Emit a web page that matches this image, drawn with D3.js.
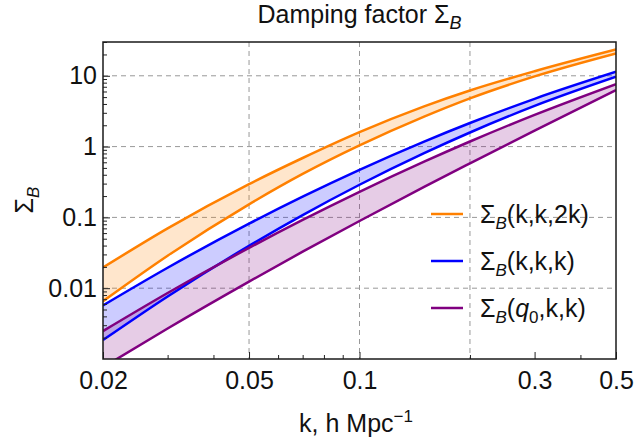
<!DOCTYPE html>
<html>
<head>
<meta charset="utf-8">
<script src="https://cdn.jsdelivr.net/npm/d3@7"></script>
<style>
    body { margin: 0; background: white; }
    text { font-family: "Liberation Sans", Arial, sans-serif; }
</style>
</head>
<body>
<svg id="chart"></svg>
<script>
var kValues = [0.02, 0.03, 0.05, 0.07, 0.1, 0.15, 0.2, 0.3, 0.5]

// Sigma_B(k,k,2k): upper and lower edge of the band
var orangeUpper = [0.0196, 0.07, 0.295, 0.69, 1.6, 3.7, 6.2, 11.6, 23.5]
var orangeLower = [0.00656, 0.0288, 0.153, 0.411, 1.04, 2.65, 4.8, 9.8, 20.7]
// Sigma_B(k,k,k)
var blueUpper = [0.00571, 0.01945, 0.0817, 0.1965, 0.47, 1.177, 2.154, 4.73, 11.38]
var blueLower = [0.00185, 0.00764, 0.0396, 0.1077, 0.289, 0.808, 1.582, 3.75, 9.68]
// Sigma_B(q0,k,k)
var purpleUpper = [0.00248, 0.00855, 0.0371, 0.0922, 0.23, 0.612, 1.18, 2.81, 7.64]
var purpleLower = [0.000764, 0.0027, 0.0124, 0.0328, 0.089, 0.27, 0.58, 1.68, 6.29]

var xTickLabels = [0.02, 0.05, 0.1, 0.3, 0.5]
var xMinorTicks = [0.03, 0.04, 0.06, 0.07, 0.08, 0.09, 0.2, 0.4]
var xGrid = [0.05, 0.1, 0.2]
var yTickLabels = [0.01, 0.1, 1, 10]
var yGrid = [0.01, 0.1, 1, 10]

var dimensions = {
    width: 635,
    height: 443,
    margin: {
        top: 42,
        bottom: 84,
        right: 19,
        left: 103
    }
}
var plotBottom = dimensions.height - dimensions.margin.bottom
var plotRight = dimensions.width - dimensions.margin.right

var svg = d3.select("#chart")
    .attr("width", dimensions.width)
    .attr("height", dimensions.height)

var xScale = d3.scaleLog()
    .domain([0.02, 0.5])
    .range([dimensions.margin.left, plotRight])
var yScale = d3.scaleLog()
    .domain([0.001, 30])
    .range([plotBottom, dimensions.margin.top])

// clip everything to the frame
svg.append("defs").append("clipPath")
    .attr("id", "plotClip")
    .append("rect")
    .attr("x", dimensions.margin.left)
    .attr("y", dimensions.margin.top)
    .attr("width", plotRight - dimensions.margin.left)
    .attr("height", plotBottom - dimensions.margin.top)

// dashed grid
svg.append("g").selectAll("line")
    .data(xGrid)
    .enter()
    .append("line")
    .attr("x1", d => xScale(d))
    .attr("x2", d => xScale(d))
    .attr("y1", dimensions.margin.top)
    .attr("y2", plotBottom)
    .attr("stroke", "#999")
    .attr("stroke-dasharray", "5,4")
svg.append("g").selectAll("line")
    .data(yGrid)
    .enter()
    .append("line")
    .attr("x1", dimensions.margin.left)
    .attr("x2", plotRight)
    .attr("y1", d => yScale(d))
    .attr("y2", d => yScale(d))
    .attr("stroke", "#999")
    .attr("stroke-dasharray", "5,4")

var series = [
    {upper: orangeUpper, lower: orangeLower, color: "#ff8000"},
    {upper: blueUpper, lower: blueLower, color: "#0000ff"},
    {upper: purpleUpper, lower: purpleLower, color: "#800080"}
]

var area = d3.area()
    .x(d => xScale(d.k))
    .y0(d => yScale(d.lo))
    .y1(d => yScale(d.hi))
    .curve(d3.curveMonotoneX)
var line = d3.line()
    .x(d => xScale(d.k))
    .y(d => yScale(d.v))
    .curve(d3.curveMonotoneX)

var plot = svg.append("g").attr("clip-path", "url(#plotClip)")

// shaded bands
series.forEach(s => {
    var rows = kValues.map((k, i) => ({k: k, lo: s.lower[i], hi: s.upper[i]}))
    plot.append("path")
        .datum(rows)
        .attr("d", area)
        .attr("fill", s.color)
        .attr("fill-opacity", 0.2)
})
// band edges
series.forEach(s => {
    [s.upper, s.lower].forEach(vals => {
        plot.append("path")
            .datum(kValues.map((k, i) => ({k: k, v: vals[i]})))
            .attr("d", line)
            .attr("fill", "none")
            .attr("stroke", s.color)
            .attr("stroke-width", 2.5)
    })
})

// axes, ticks point inward
var fmt = d => String(d)
var xAxis = svg.append("g")
    .attr("transform", `translate(0,${plotBottom})`)
    .call(d3.axisBottom(xScale).tickValues(xTickLabels).tickFormat(fmt).tickSize(-7).tickPadding(12))
svg.append("g")
    .attr("transform", `translate(0,${plotBottom})`)
    .call(d3.axisBottom(xScale).tickValues(xMinorTicks).tickFormat("").tickSize(-4))
var yMinor = []
;[0.001, 0.01, 0.1, 1, 10].forEach(dec => {
    for (var m = 2; m <= 9; m++) if (dec * m <= 30) yMinor.push(dec * m)
})
var yAxis = svg.append("g")
    .attr("transform", `translate(${dimensions.margin.left},0)`)
    .call(d3.axisLeft(yScale).tickValues(yTickLabels).tickFormat(fmt).tickSize(-7).tickPadding(6))
svg.append("g")
    .attr("transform", `translate(${dimensions.margin.left},0)`)
    .call(d3.axisLeft(yScale).tickValues(yMinor).tickFormat("").tickSize(-4))

svg.selectAll(".domain").remove()
svg.selectAll(".tick line").attr("stroke", "#222").attr("stroke-width", 1)
svg.selectAll(".tick text")
    .style("font-size", "25px")
    .style("font-family", "Liberation Sans, Arial, sans-serif")
    .attr("fill", "#111")

// frame
svg.append("rect")
    .attr("x", dimensions.margin.left)
    .attr("y", dimensions.margin.top)
    .attr("width", plotRight - dimensions.margin.left)
    .attr("height", plotBottom - dimensions.margin.top)
    .attr("fill", "none")
    .attr("stroke", "#1a1a1a")
    .attr("stroke-width", 1.5)

// title
var title = svg.append("text")
    .attr("x", (dimensions.margin.left + plotRight) / 2)
    .attr("y", 23)
    .style("text-anchor", "middle")
    .style("font-size", "25px")
    .attr("fill", "#111")
title.append("tspan").text("Damping factor Σ")
title.append("tspan").text("B").attr("dy", 6).style("font-size", "18px").style("font-style", "italic")

// x label
var xLabel = svg.append("text")
    .attr("x", 356)
    .attr("y", 432)
    .style("text-anchor", "middle")
    .style("font-size", "25px")
    .attr("fill", "#111")
xLabel.append("tspan").text("k, h Mpc")
xLabel.append("tspan").text("\u22121").attr("dy", -10).style("font-size", "17px")

// y label
var yLabel = svg.append("text")
    .attr("transform", "translate(33,200) rotate(-90)")
    .style("text-anchor", "middle")
    .style("font-size", "25px")
    .attr("fill", "#111")
yLabel.append("tspan").text("Σ")
yLabel.append("tspan").text("B").attr("dy", 6).style("font-size", "17px").style("font-style", "italic")

// legend
var legendItems = [
    {color: "#ff8000", parts: [["Σ", 0, false, 25], ["B", 6, true, 17], ["(k,k,2k)", -6, false, 25]]},
    {color: "#0000ff", parts: [["Σ", 0, false, 25], ["B", 6, true, 17], ["(k,k,k)", -6, false, 25]]},
    {color: "#800080", parts: [["Σ", 0, false, 25], ["B", 6, true, 17], ["(", -6, false, 25], ["q", 0, true, 25], ["0", 6, false, 17], [",k,k)", -6, false, 25]]}
]
var legendY = [214, 261, 308]
legendItems.forEach((item, i) => {
    svg.append("line")
        .attr("x1", 431)
        .attr("x2", 463)
        .attr("y1", legendY[i])
        .attr("y2", legendY[i])
        .attr("stroke", item.color)
        .attr("stroke-width", 2.5)
    var t = svg.append("text")
        .attr("x", 480)
        .attr("y", legendY[i] + 9)
        .style("font-size", "25px")
        .attr("fill", "#111")
    item.parts.forEach(p => {
        t.append("tspan")
            .text(p[0])
            .attr("dy", p[1])
            .style("font-size", p[3] + "px")
            .style("font-style", p[2] ? "italic" : "normal")
    })
})
</script>
</body>
</html>
